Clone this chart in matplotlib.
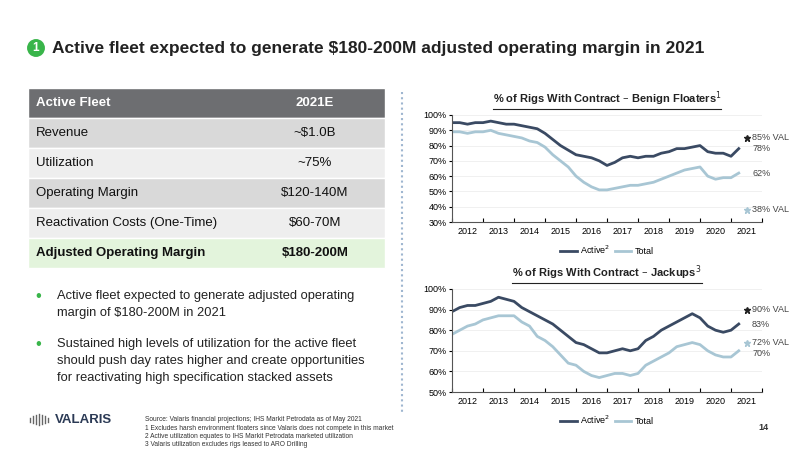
import numpy as np
import matplotlib.pyplot as plt
from matplotlib.patches import Rectangle

plt.rcParams['font.family'] = ['Liberation Sans', 'DejaVu Sans']

ACTIVE = "#3a4a63"
TOTAL = "#a8c6d4"

# quarterly points, 2012.0 .. 2021.25
years = np.arange(2012, 2021.3, 0.25)
floater_active = [95, 95, 94, 95, 95, 96, 95, 94, 94, 93, 92, 91, 88, 84, 80, 77,
                  74, 73, 72, 70, 67, 69, 72, 73, 72, 73, 73, 75, 76, 78, 78, 79,
                  80, 76, 75, 75, 73, 78]
floater_total = [89, 89, 88, 89, 89, 90, 88, 87, 86, 85, 83, 82, 79, 74, 70, 66,
                 60, 56, 53, 51, 51, 52, 53, 54, 54, 55, 56, 58, 60, 62, 64, 65,
                 66, 60, 58, 59, 59, 62]
jackup_active = [89, 91, 92, 92, 93, 94, 96, 95, 94, 91, 89, 87, 85, 83, 80, 77,
                 74, 73, 71, 69, 69, 70, 71, 70, 71, 75, 77, 80, 82, 84, 86, 88,
                 86, 82, 80, 79, 80, 83]
jackup_total = [78, 80, 82, 83, 85, 86, 87, 87, 87, 84, 82, 77, 75, 72, 68, 64,
                63, 60, 58, 57, 58, 59, 59, 58, 59, 63, 65, 67, 69, 72, 73, 74,
                73, 70, 68, 67, 67, 70]
year_labels = [str(y) for y in range(2012, 2022)]

table_rows = [("Active Fleet", "2021E"), ("Revenue", "~$1.0B"), ("Utilization", "~75%"),
              ("Operating Margin", "$120-140M"), ("Reactivation Costs (One-Time)", "$60-70M"),
              ("Adjusted Operating Margin", "$180-200M")]

fig = plt.figure(figsize=(8, 4.49), dpi=100)
W, H = 800, 449

def fx(px): return px / W
def fy(py): return 1 - py / H

# title
fig.text(fx(36), fy(48), "1", color="white", ha="center", va="center", fontsize=8.5, fontweight="bold",
         bbox=dict(boxstyle="circle,pad=0.25", fc="#39b54a", ec="none"))
fig.text(fx(52), fy(48), "Active fleet expected to generate $180-200M adjusted operating margin in 2021",
         fontsize=12.5, fontweight="bold", color="#222222", va="center")

# table
row_h = 30
top = 88
for i, (a, b) in enumerate(table_rows):
    y0 = top + i * row_h
    if i == 0:
        fc, tc, fw = "#6d6e71", "white", "bold"
    elif i == len(table_rows) - 1:
        fc, tc, fw = "#e3f4dc", "#111111", "bold"
    else:
        fc, tc, fw = ("#d9d9d9" if i % 2 == 1 else "#eeeeee"), "#111111", "normal"
    fig.patches.append(Rectangle((fx(28), fy(y0 + row_h)), fx(385 - 28), row_h / H,
                                 transform=fig.transFigure, facecolor=fc, edgecolor="white", lw=1))
    fig.text(fx(36), fy(y0 + row_h / 2), a, fontsize=9.5, color=tc, fontweight=fw, va="center")
    fig.text(fx(315), fy(y0 + row_h / 2), b, fontsize=9.5, color=tc, fontweight=fw, va="center", ha="center")

# bullets
bullets = [(290, "Active fleet expected to generate adjusted operating\nmargin of $180-200M in 2021"),
           (338, "Sustained high levels of utilization for the active fleet\nshould push day rates higher and create opportunities\nfor reactivating high specification stacked assets")]
for y, t in bullets:
    fig.text(fx(35), fy(y - 1), "\u2022", color="#39b54a", fontsize=12, va="top")
    fig.text(fx(57), fy(y), t, fontsize=9.3, va="top", color="#222222", linespacing=1.55)

# logo + footnotes
for k, h in enumerate([6, 9, 12, 16, 12, 9, 6]):
    x = fx(30 + k * 3)
    fig.add_artist(plt.Line2D([x, x], [fy(420 + h * 0.3), fy(420 - h * 0.4)],
                              transform=fig.transFigure, color="#666666", lw=1))
fig.text(fx(55), fy(420), "VALARIS", fontsize=9.5, fontweight="bold", color="#2b3a55", va="center")
fig.text(fx(145), fy(416), "Source: Valaris financial projections; IHS Markit Petrodata as of May 2021\n"
         "1 Excludes harsh environment floaters since Valaris does not compete in this market\n"
         "2 Active utilization equates to IHS Markit Petrodata marketed utilization\n"
         "3 Valaris utilization excludes rigs leased to ARO Drilling",
         fontsize=4.8, va="top", color="#333333", linespacing=1.3)
fig.text(fx(758), fy(427), "14", fontsize=6.5, fontweight="bold", color="#333333", va="center")

# divider
fig.add_artist(plt.Line2D([fx(402), fx(402)], [fy(92), fy(412)], transform=fig.transFigure,
                          color="#9fb6d0", lw=1.5, ls=(0, (1, 1.5))))


def rig_chart(rect, active, total, ylim, title, notes):
    ax = fig.add_axes(rect)
    ax.plot(years, active, color=ACTIVE, lw=2, label="Active$^2$")
    ax.plot(years, total, color=TOTAL, lw=2, label="Total")
    ax.set_xlim(2012, 2022)
    ax.set_ylim(*ylim)
    ax.set_yticks(np.arange(ylim[0], ylim[1] + 1, 10))
    ax.set_yticklabels([f"{v}%" for v in range(ylim[0], ylim[1] + 1, 10)], fontsize=6.5)
    ax.set_xticks(range(2012, 2023))
    ax.set_xticklabels([])
    ax.set_xticks(np.arange(2012.5, 2022, 1), minor=True)
    ax.set_xticklabels(year_labels, minor=True, fontsize=6.5)
    ax.tick_params(axis="x", which="minor", length=0)
    ax.tick_params(axis="x", which="major", length=3, direction="in")
    ax.tick_params(axis="y", length=2, pad=2)
    ax.grid(axis="y", color="#eeeeee", lw=0.6)
    for s in ["top", "right"]:
        ax.spines[s].set_visible(False)
    for s in ["left", "bottom"]:
        ax.spines[s].set_color("#555555")
    t = ax.set_title(title, fontsize=8, fontweight="bold", pad=9, color="#222222")
    for (val, txt, col, star) in notes:
        if star:
            ax.plot([2021.5], [val], marker="*", color=col, ms=5, clip_on=False)
        ax.text(2021.68, val, txt, fontsize=6.5, va="center", color="#444444", clip_on=False)
    ax.legend(loc="upper center", bbox_to_anchor=(0.5, -0.13), ncol=2, frameon=False,
              fontsize=6.5, handlelength=1.8, columnspacing=0.5, handletextpad=0.4)
    return ax, t


charts = [
    rig_chart([fx(452), fy(222), fx(762 - 452), (222 - 115) / H], floater_active, floater_total,
              (30, 100), "% of Rigs With Contract \u2013 Benign Floaters$^1$",
              [(85, "85% VAL", "#222222", True), (78, "78%", None, False),
               (62, "62%", None, False), (38, "38% VAL", TOTAL, True)]),
    rig_chart([fx(452), fy(392), fx(762 - 452), (392 - 289) / H], jackup_active, jackup_total,
              (50, 100), "% of Rigs With Contract \u2013 Jackups$^3$",
              [(90, "90% VAL", "#222222", True), (83, "83%", None, False),
               (73.8, "72% VAL", TOTAL, True), (68.8, "70%", None, False)]),
]

# underline titles
fig.canvas.draw()
r = fig.canvas.get_renderer()
for ax, t in charts:
    bb = t.get_window_extent(r)
    y = bb.y0 - 1
    fig.add_artist(plt.Line2D([bb.x0 / W, bb.x1 / W], [y / H, y / H], transform=fig.transFigure,
                              color="#222222", lw=0.8))

fig.savefig("out.png", dpi=100)
